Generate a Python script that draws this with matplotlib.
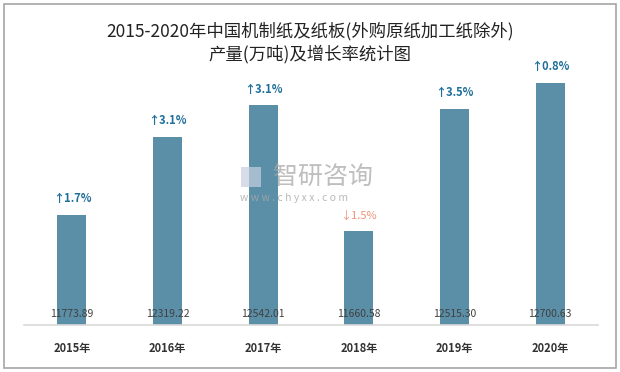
import matplotlib.pyplot as plt
from matplotlib.patches import Rectangle
import matplotlib.transforms as mtransforms

plt.rcParams['font.family'] = ['Noto Sans CJK SC', 'DejaVu Sans']

years = ['2015年', '2016年', '2017年', '2018年', '2019年', '2020年']
output = [11773.89, 12319.22, 12542.01, 11660.58, 12515.30, 12700.63]
growth = [1.7, 3.1, 3.1, -1.5, 3.5, 0.8]

fig = plt.figure(figsize=(6.2, 3.72), dpi=100)
fig.patches.append(Rectangle((0.007, 0.01), 0.986, 0.978, transform=fig.transFigure,
                             fill=False, edgecolor='#a6a6a6', linewidth=1.2))

ax = fig.add_axes([24 / 620, 47 / 372, 574 / 620, 285 / 372])
x = list(range(len(years)))
ax.bar(x, output, width=0.3, color='#5b8fa8', zorder=2)
ax.set_ylim(11000, 13000)
ax.set_xlim(-0.5, 5.5)

for s in ['top', 'right', 'left']:
    ax.spines[s].set_visible(False)
ax.spines['bottom'].set_color('#d9d9d9')
ax.spines['bottom'].set_linewidth(1.2)
ax.set_yticks([])
ax.set_xticks(x)
ax.set_xticklabels(years, fontsize=8, fontweight='bold', color='#333333')
ax.tick_params(axis='x', length=0, pad=12)

trans = mtransforms.blended_transform_factory(ax.transData, ax.transAxes)
for xi, v, g in zip(x, output, growth):
    ax.text(xi, 0.04, f'{v:.2f}', transform=trans, ha='center', va='center',
            fontsize=7.5, color='#404040', zorder=3)
    if g >= 0:
        ax.annotate(f'↑{g}%', (xi, v), xytext=(0, 7), textcoords='offset points',
                    ha='center', va='bottom', fontsize=8, fontweight='bold', color='#1f6f9a')
    else:
        ax.annotate(f'↓{abs(g)}%', (xi, v), xytext=(0, 7), textcoords='offset points',
                    ha='center', va='bottom', fontsize=8, color='#f0907a')

# watermark
fig.patches.append(Rectangle((241 / 620, 1 - 187 / 372), 20 / 620, 20 / 372, transform=fig.transFigure,
                             facecolor='#c5cfdf', edgecolor='none', alpha=0.7, zorder=5))
fig.text(273 / 620, 1 - 177 / 372, '智研咨询', fontsize=18, color='#a8a8a8', alpha=0.75,
         ha='left', va='center', zorder=6)
fig.text(240 / 620, 1 - 198 / 372, 'w w w . c h y x x . c o m', fontsize=7.5, color='#a8a8a8',
         alpha=0.8, ha='left', va='center', zorder=6)

fig.text(0.5, 1 - 43 / 372, '2015-2020年中国机制纸及纸板(外购原纸加工纸除外)\n产量(万吨)及增长率统计图',
         ha='center', va='center', fontsize=12.5, color='#222222', linespacing=1.3)

fig.savefig('out.png', dpi=100)
